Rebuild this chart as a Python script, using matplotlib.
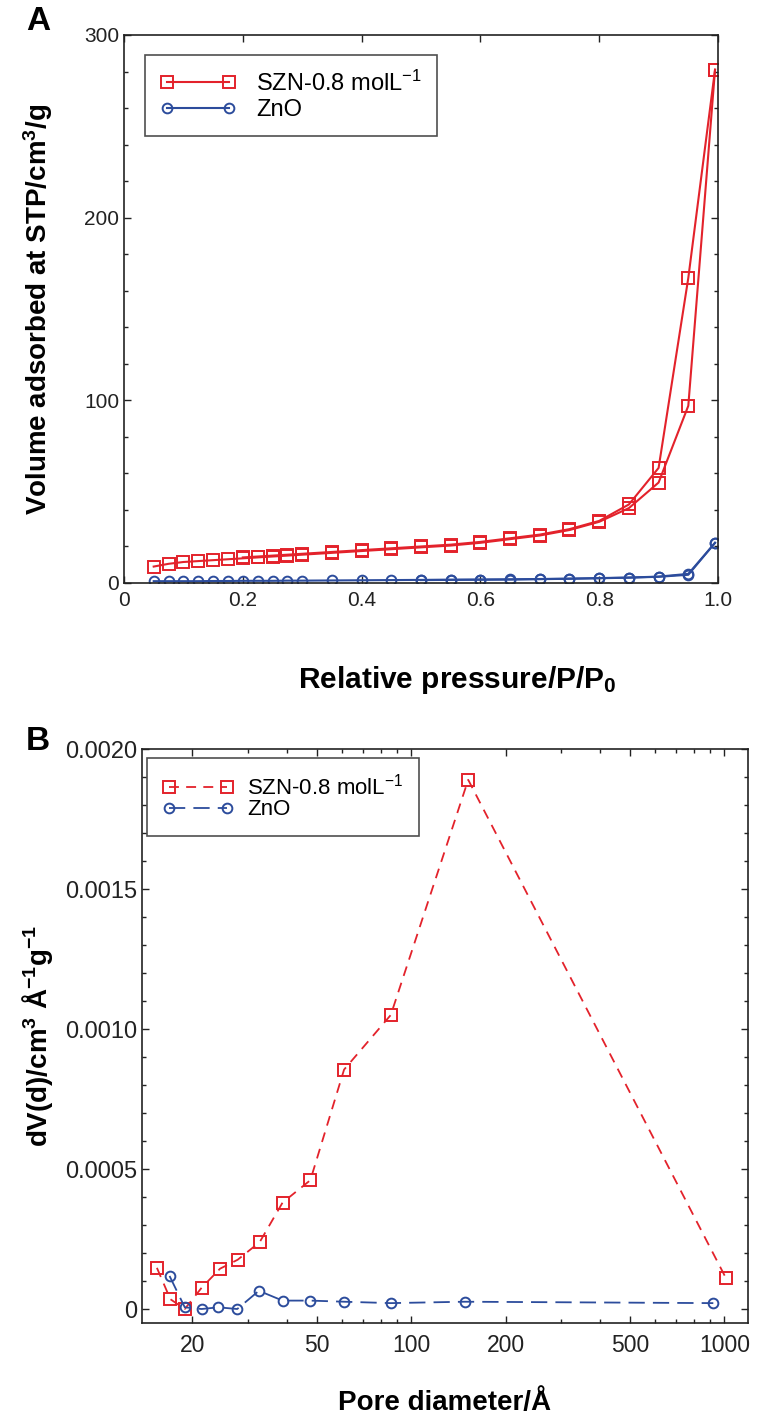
import numpy as np
import matplotlib
matplotlib.use("Agg")
import matplotlib.pyplot as plt
from matplotlib.ticker import MultipleLocator, FixedLocator, NullFormatter, LogLocator

plt.rcParams['font.family'] = ['Liberation Sans', 'DejaVu Sans']
plt.rcParams['mathtext.fontset'] = 'custom'
plt.rcParams['mathtext.rm'] = 'Liberation Sans'
plt.rcParams['mathtext.bf'] = 'Liberation Sans:bold'
plt.rcParams['mathtext.it'] = 'Liberation Sans:italic'

RED = '#e3222b'
BLUE = '#2c4c9c'

# Panel A: N2 isotherms (adsorption then desorption branch)
p_ads = [0.05, 0.075, 0.1, 0.125, 0.15, 0.175, 0.2, 0.225, 0.25, 0.275, 0.3,
         0.35, 0.4, 0.45, 0.5, 0.55, 0.6, 0.65, 0.7, 0.75, 0.8, 0.85, 0.9, 0.95, 0.995]
szn_ads = [9, 10.5, 11.5, 12, 12.5, 13, 13.5, 14, 14.5, 15, 15.5,
           16.5, 17.5, 18.5, 19.5, 20.5, 22, 24, 26, 29, 33.5, 41, 55, 97, 281]
p_des = [0.995, 0.95, 0.9, 0.85, 0.8, 0.75, 0.7, 0.65, 0.6, 0.55, 0.5, 0.45, 0.4,
         0.35, 0.3, 0.275, 0.25, 0.225, 0.2]
szn_des = [281, 167, 63, 43, 34, 29.5, 26.5, 24.5, 22.5, 21, 20, 19, 18,
           17, 16, 15.5, 15, 14.5, 14]
zno_p_ads = [0.05, 0.075, 0.1, 0.125, 0.15, 0.175, 0.2, 0.225, 0.25, 0.275, 0.3,
             0.35, 0.4, 0.45, 0.5, 0.55, 0.6, 0.65, 0.7, 0.75, 0.8, 0.85, 0.9, 0.95, 0.995]
zno_ads = [1, 1, 1, 1, 1.1, 1.1, 1.2, 1.2, 1.2, 1.3, 1.3,
           1.4, 1.5, 1.6, 1.7, 1.8, 1.9, 2.0, 2.2, 2.4, 2.7, 3.0, 3.5, 5, 22]
zno_p_des = [0.995, 0.95, 0.9, 0.85, 0.8, 0.75, 0.7, 0.65, 0.6, 0.55, 0.5]
zno_des = [22, 4.5, 3.4, 2.9, 2.6, 2.3, 2.1, 1.9, 1.8, 1.7, 1.6]

# Panel B: pore size distribution
d_szn = [15.4, 17.0, 18.9, 21.4, 24.5, 27.9, 32.8, 38.8, 47.6, 61, 86, 152, 1010]
dv_szn = [0.000147, 0.000035, 0.0, 0.000076, 0.000144, 0.000176, 0.000239,
          0.00038, 0.00046, 0.000855, 0.00105, 0.00189, 0.000112]
d_zno = [16.9, 18.9, 21.4, 24.2, 27.8, 32.6, 38.8, 47.6, 61, 86, 148, 922]
dv_zno = [0.000118, 0.000006, 0.0, 0.000006, 0.0, 0.000065, 0.00003, 0.00003,
          0.000026, 0.000021, 0.000026, 0.000021]

fig = plt.figure(figsize=(7.58, 14.21), dpi=100)
W, H = 758, 1421


def box(l, t, r, b):
    return [l / W, 1 - b / H, (r - l) / W, (b - t) / H]


def style_axes(ax, size):
    ax.tick_params(which='both', direction='in', top=True, right=True,
                   labelsize=size, width=1, colors='#222222', labelcolor='#222222')
    ax.tick_params(which='major', length=5)
    ax.tick_params(which='minor', length=3)
    for s in ax.spines.values():
        s.set_linewidth(1.2)
        s.set_color('#222222')


mk = dict(markerfacecolor='none', markeredgewidth=1.4)
szn_label = 'SZN-0.8 molL$^{\\mathrm{-1}}$'

# ---- A ----
A_l, A_r, A_top, A_bot = 124, 718, 35, 583
axA = fig.add_axes(box(A_l, A_top, A_r, A_bot))
lA1, = axA.plot(p_ads, szn_ads, '-s', color=RED, ms=9, lw=1.5, label=szn_label, **mk)
axA.plot(p_des, szn_des, '-s', color=RED, ms=9, lw=1.5, **mk)
lA2, = axA.plot(zno_p_ads, zno_ads, '-o', color=BLUE, ms=7, lw=1.5, label='ZnO', **mk)
axA.plot(zno_p_des, zno_des, '-o', color=BLUE, ms=7, lw=1.5, **mk)
axA.set_xlim(0, 1.0)
axA.set_ylim(0, 300)
axA.set_xticks([0, 0.2, 0.4, 0.6, 0.8, 1.0])
axA.set_xticklabels(['0', '0.2', '0.4', '0.6', '0.8', '1.0'])
axA.set_yticks([0, 100, 200, 300])
axA.yaxis.set_minor_locator(MultipleLocator(20))
style_axes(axA, 15)
axA.tick_params(axis='x', pad=6)
axA.set_xlabel('Relative pressure/P/P$_{\\mathbf{0}}$', fontsize=21.5, fontweight='bold')
axA.xaxis.set_label_coords((457 - A_l) / (A_r - A_l), -(680 - A_bot) / (A_bot - A_top))
axA.xaxis.label.set_va('center')
axA.set_ylabel('Volume adsorbed at STP/cm$^{\\mathbf{3}}$/g', fontsize=20, fontweight='bold')
axA.yaxis.set_label_coords(-(A_l - 38) / (A_r - A_l), 0.5)
axA.yaxis.label.set_va('center')
legA = axA.legend(handles=[lA1, lA2], loc='upper left', fontsize=17, numpoints=2,
                  handlelength=3.2, handletextpad=0.85, labelspacing=0.15,
                  fancybox=False, edgecolor='#222222', borderpad=0.65,
                  bbox_to_anchor=((145 - A_l) / (A_r - A_l), 1 - (55 - A_top) / (A_bot - A_top)),
                  borderaxespad=0)
legA.get_frame().set_linewidth(1.2)
fig.text(38 / W, 1 - 22 / H, 'A', fontsize=24, fontweight='bold', ha='center', va='center')

# ---- B ----
B_l, B_r, B_top, B_bot = 142, 748, 749, 1323
axB = fig.add_axes(box(B_l, B_top, B_r, B_bot))
lB1, = axB.plot(d_szn, dv_szn, 's', color=RED, ms=9, lw=1.3, ls=(0, (5.5, 4)),
                label=szn_label, **mk)
lB2, = axB.plot(d_zno, dv_zno, 'o', color=BLUE, ms=7, lw=1.3, ls=(0, (9, 4.5)), label='ZnO', **mk)
axB.set_xscale('log')
axB.set_xlim(13.8, 1190)
axB.set_ylim(-0.00005, 0.0020)
axB.xaxis.set_major_locator(FixedLocator([20, 50, 100, 200, 500, 1000]))
axB.set_xticklabels(['20', '50', '100', '200', '500', '1000'])
axB.xaxis.set_minor_locator(LogLocator(base=10, subs=np.arange(2, 10), numticks=20))
axB.xaxis.set_minor_formatter(NullFormatter())
axB.set_yticks([0, 0.0005, 0.0010, 0.0015, 0.0020])
axB.set_yticklabels(['0', '0.0005', '0.0010', '0.0015', '0.0020'])
axB.yaxis.set_minor_locator(MultipleLocator(0.0001))
style_axes(axB, 16.5)
axB.tick_params(axis='y', labelsize=17)
axB.tick_params(axis='x', pad=8)
axB.set_xlabel('Pore diameter/Å', fontsize=20, fontweight='bold')
axB.xaxis.set_label_coords(0.5, -(1403 - B_bot) / (B_bot - B_top))
axB.xaxis.label.set_va('center')
axB.set_ylabel('dV(d)/cm$^{\\mathbf{3}}$ Å$^{\\mathbf{-1}}$g$^{\\mathbf{-1}}$', fontsize=20,
               fontweight='bold')
axB.yaxis.set_label_coords(-(B_l - 38) / (B_r - B_l), 0.5)
axB.yaxis.label.set_va('center')
legB = axB.legend(handles=[lB1, lB2], loc='upper left', fontsize=16, numpoints=2,
                  handlelength=3.2, handletextpad=0.6, labelspacing=0.0,
                  fancybox=False, edgecolor='#222222', borderpad=0.7,
                  bbox_to_anchor=((147 - B_l) / (B_r - B_l), 1 - (758 - B_top) / (B_bot - B_top)),
                  borderaxespad=0)
legB.get_frame().set_linewidth(1.2)
fig.text(38 / W, 1 - 742 / H, 'B', fontsize=24, fontweight='bold', ha='center', va='center')

fig.savefig('out.png', dpi=100)
